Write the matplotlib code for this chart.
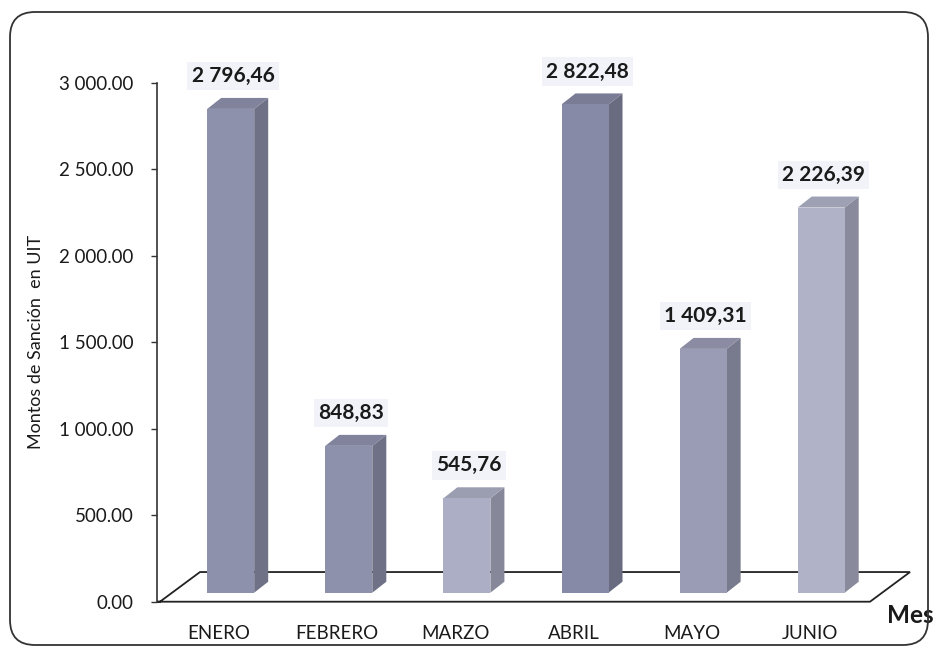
import numpy as np
import matplotlib
matplotlib.use("Agg")
import matplotlib.pyplot as plt
from matplotlib.patches import Polygon, FancyBboxPatch

# ____________________________________________________________
# data

meses = ['ENERO', 'FEBRERO', 'MARZO', 'ABRIL', 'MAYO', 'JUNIO']
montos = [2796.46, 848.83, 545.76, 2822.48, 1409.31, 2226.39]
yticks = [0, 500, 1000, 1500, 2000, 2500, 3000]

colores = ['#8e91ac', '#8e91ac', '#acaec5', '#878aa6', '#9a9cb5', '#b0b2c8']


def fmt(v):
    # 2796.46 -> "2 796,46"
    s = '{:,.2f}'.format(v)
    return s.replace(',', ' ').replace('.', ',')


def shade(c, f):
    r, g, b = matplotlib.colors.to_rgb(c)
    return (r * f, g * f, b * f)


# ____________________________________________________________
# figure

plt.rcParams['font.family'] = ['Lato', 'DejaVu Sans']
fig = plt.figure(figsize=(9.37, 6.51), dpi=100)
ax = fig.add_axes([157 / 937, 49.3 / 651, 713 / 937, 519 / 651])

x = np.arange(len(meses))
base = 52          # bars stand a bit above the floor front edge
off = -0.10        # face left edge relative to category
w = 0.398
dx, dy = 0.1185, 63.5

# floor
floor = Polygon([[-0.525, 0], [5.512, 0], [5.851, 171.5], [-0.161, 171.5], [-0.50, 0]],
                closed=True, fc='white', ec='#222222', lw=1.3, clip_on=False, zorder=1)
ax.add_patch(floor)

bars = ax.bar(x + off, montos, width=w, bottom=base, align='edge',
              color=colores, edgecolor='none', zorder=3)

for xi, v, c in zip(x, montos, colores):
    x0 = xi + off
    x1 = x0 + w
    top = base + v
    side = Polygon([[x1, base], [x1 + dx, base + dy], [x1 + dx, top + dy], [x1, top]],
                   closed=True, fc=shade(c, 0.78), ec='none', zorder=2)
    lid = Polygon([[x0, top], [x0 + dx, top + dy], [x1 + dx, top + dy], [x1, top]],
                  closed=True, fc=shade(c, 0.9), ec='none', zorder=2, clip_on=False)
    ax.add_patch(side)
    ax.add_patch(lid)
    ax.text(x0 + w / 2 + 0.02, top + 190, fmt(v), ha='center', va='center',
            fontsize=15, fontweight='bold', color='#1a1a1a', zorder=5,
            bbox=dict(boxstyle='square,pad=0.2', fc='#f1f3f9', ec='none'))

ax.set_xlim(-0.525, 5.512)
ax.set_ylim(0, 3000)
ax.set_yticks(yticks)
ax.set_yticklabels([('{:,.2f}'.format(t)).replace(',', ' ') for t in yticks])
ax.set_xticks(x)
ax.set_xticklabels(meses)
ax.tick_params(axis='x', length=0, pad=17, labelsize=13.5, labelcolor='#1a1a1a')
ax.tick_params(axis='y', direction='out', length=4, width=1, pad=13,
               labelsize=13.5, labelcolor='#1a1a1a', color='#333333')

for s in ['top', 'right', 'bottom']:
    ax.spines[s].set_visible(False)
ax.spines['left'].set_color('#333333')
ax.spines['left'].set_linewidth(1.2)
ax.patch.set_alpha(0)

ax.text(5.85, -77, 'Mes', ha='center', va='center', fontsize=17.5,
        fontweight='bold', color='#1a1a1a', clip_on=False)

ax.set_ylabel('Montos de Sanción  en UIT', fontsize=13, color='#1a1a1a')
ax.yaxis.set_label_coords(-0.158, 0.5)

# rounded frame
frame = FancyBboxPatch((0.10, 0.06), 9.18, 6.33,
                       boxstyle='round,pad=0,rounding_size=0.25',
                       transform=fig.dpi_scale_trans, fc='none', ec='#333333', lw=1.3)
fig.patches.append(frame)

fig.savefig('out.png', dpi=100)
